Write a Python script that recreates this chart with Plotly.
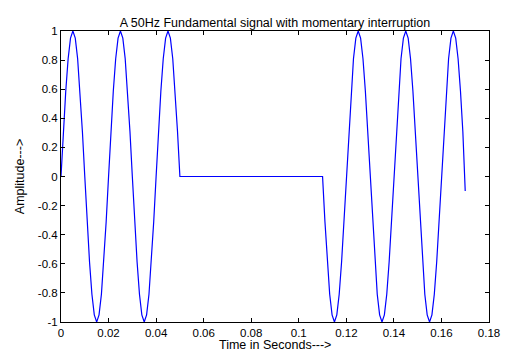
import numpy as np
import plotly.graph_objects as go

seg1_start = 0.0
seg1_amp = [0, 0.309, 0.588, 0.809, 0.951, 1, 0.951, 0.809, 0.588, 0.309,
            0, -0.309, -0.588, -0.809, -0.951, -1, -0.951, -0.809, -0.588, -0.309,
            0, 0.309, 0.588, 0.809, 0.951, 1, 0.951, 0.809, 0.588, 0.309,
            0, -0.309, -0.588, -0.809, -0.951, -1, -0.951, -0.809, -0.588, -0.309,
            0, 0.309, 0.588, 0.809, 0.951, 1, 0.951, 0.809, 0.588, 0.309,
            0]
gap_time = [0.05, 0.11]
gap_amp = [0, 0]
seg2_start = 0.11
seg2_amp = [0, -0.309, -0.588, -0.809, -0.951, -1, -0.951, -0.809, -0.588, -0.309,
            0, 0.309, 0.588, 0.809, 0.951, 1, 0.951, 0.809, 0.588, 0.309,
            0, -0.309, -0.588, -0.809, -0.951, -1, -0.951, -0.809, -0.588, -0.309,
            0, 0.309, 0.588, 0.809, 0.951, 1, 0.951, 0.809, 0.588, 0.309,
            0, -0.309, -0.588, -0.809, -0.951, -1, -0.951, -0.809, -0.588, -0.309,
            0, 0.309, 0.588, 0.809, 0.951, 1, 0.951, 0.809, 0.588, 0.309,
            -0.1]
dt = 0.001

x_ticks = [0, 0.02, 0.04, 0.06, 0.08, 0.1, 0.12, 0.14, 0.16, 0.18]
x_labels = ["0", "0.02", "0.04", "0.06", "0.08", "0.1", "0.12", "0.14", "0.16", "0.18"]
y_ticks = [-1, -0.8, -0.6, -0.4, -0.2, 0, 0.2, 0.4, 0.6, 0.8, 1]
y_labels = ["-1", "-0.8", "-0.6", "-0.4", "-0.2", "0", "0.2", "0.4", "0.6", "0.8", "1"]

t1 = seg1_start + dt * np.arange(len(seg1_amp))
t2 = seg2_start + dt * np.arange(len(seg2_amp))

t_all = list(t1) + gap_time + list(t2)
a_all = seg1_amp + gap_amp + seg2_amp

fig = go.Figure()
fig.add_trace(go.Scatter(x=t_all, y=a_all, mode="lines",
                         line=dict(color="#0000ff", width=1.2),
                         showlegend=False, hoverinfo="skip"))

fam = "Liberation Sans, Arial, sans-serif"
tick_font = dict(family=fam, size=11.5, color="black")
title_font = dict(family=fam, size=12.5, color="black")
axis_common = dict(showgrid=False, zeroline=False, showline=True, linecolor="black",
                   linewidth=1, mirror="allticks", ticks="inside", ticklen=4,
                   tickcolor="black", tickwidth=1, tickfont=tick_font, automargin=False)
fig.update_layout(
    width=506, height=352,
    margin=dict(l=61, r=17, t=31, b=30),
    paper_bgcolor="white", plot_bgcolor="white",
    font=tick_font,
    title=dict(text="A 50Hz Fundamental signal with momentary interruption",
               x=0.5, xanchor="center", xref="paper", y=1, yref="paper",
               yanchor="bottom", pad=dict(b=4), font=title_font,
               automargin=False),
    xaxis=dict(range=[0, 0.18], tickvals=x_ticks, ticktext=x_labels, **axis_common),
    yaxis=dict(range=[-1, 1], tickvals=y_ticks, ticktext=y_labels,
               title=dict(text="Amplitude--->", standoff=10, font=title_font), **axis_common),
    annotations=[dict(text="Time in Seconds--->", x=0.5, xref="paper", xanchor="center",
                      y=0, yref="paper", yanchor="bottom", yshift=-31,
                      showarrow=False, font=title_font, borderpad=0)],
)
fig.write_html("out.html")
